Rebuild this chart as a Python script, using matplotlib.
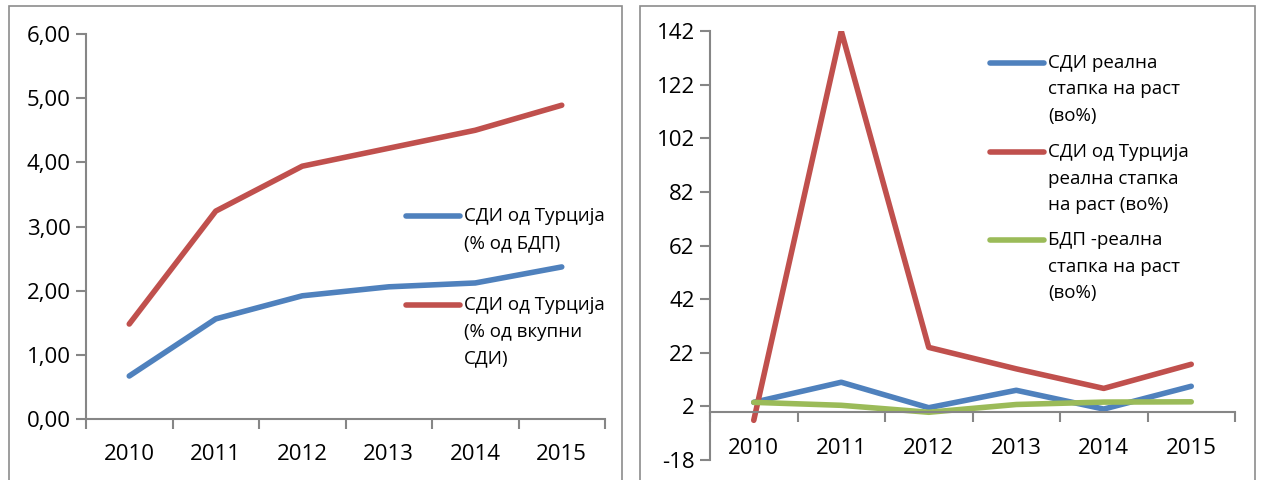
import matplotlib.pyplot as plt
import matplotlib.patches as mpatches
from matplotlib.lines import Line2D
import numpy as np

years = ['2010', '2011', '2012', '2013', '2014', '2015']

# left chart: FDI from Turkey
fdi_tr_gdp = [0.67, 1.56, 1.92, 2.06, 2.12, 2.37]
fdi_tr_total = [1.48, 3.24, 3.94, 4.22, 4.50, 4.89]

# right chart: real growth rates
fdi_growth = [3.5, 11.0, 1.5, 8.0, 1.0, 9.5]
fdi_tr_growth = [-3.2, 142.0, 24.0, 16.0, 8.7, 17.7]
gdp_growth = [3.5, 2.4, -0.2, 2.7, 3.6, 3.7]

left_labels = ['СДИ од Турција\n(% од БДП)', 'СДИ од Турција\n(% од вкупни\nСДИ)']
right_labels = ['СДИ реална\nстапка на раст\n(во%)',
                'СДИ од Турција\nреална стапка\nна раст (во%)',
                'БДП -реална\nстапка на раст\n(во%)']

BLUE = '#4F81BD'
RED = '#C0504D'
GREEN = '#9BBB59'
GRAY = '#868686'

plt.rcParams['font.family'] = ['Open Sans', 'DejaVu Sans']
plt.rcParams['axes.unicode_minus'] = False

W, H = 1261, 480
fig = plt.figure(figsize=(W / 100, H / 100), dpi=100)

# chart borders
for x0, x1 in [(9, 622), (640, 1255)]:
    fig.patches.append(mpatches.Rectangle((x0 / W, -0.05), (x1 - x0) / W, 1 - 6 / H + 0.05,
                                          transform=fig.transFigure, fill=False,
                                          edgecolor='#8c8c8c', linewidth=1.2))

x = np.arange(len(years))


def style_axes(ax, pad):
    for s in ['top', 'right']:
        ax.spines[s].set_visible(False)
    for s in ['left', 'bottom']:
        ax.spines[s].set_color(GRAY)
        ax.spines[s].set_linewidth(1.5)
    ax.set_xlim(-0.5, 5.5)
    ax.set_xticks(np.arange(-0.5, 6, 1))
    ax.set_xticklabels([])
    ax.set_xticks(x, minor=True)
    ax.set_xticklabels(years, minor=True)
    ax.tick_params(axis='x', which='major', direction='out', length=7, width=1.5, color=GRAY)
    ax.tick_params(axis='x', which='minor', length=0, pad=pad, labelsize=16)
    ax.tick_params(axis='y', direction='out', length=7, width=1.5, color=GRAY, labelsize=16, pad=4)
    ax.patch.set_visible(False)


def legend(lines, labels, x0, ys, row=26.8):
    # legend drawn by hand so the handle sits on the first text row
    for ln, lab, y in zip(lines, labels, ys):
        fig.lines.append(Line2D([x0 / W, (x0 + 54) / W], [1 - y / H, 1 - y / H],
                                transform=fig.transFigure, color=ln.get_color(),
                                lw=ln.get_linewidth(), solid_capstyle='round'))
        for i, part in enumerate(lab.split('\n')):
            fig.text((x0 + 58) / W, 1 - (y + i * row) / H, part, fontsize=13.5,
                     va='center', ha='left')


# left
ax1 = fig.add_axes([86 / W, 1 - 419 / H, (605 - 86) / W, (419 - 34) / H])
l1, = ax1.plot(x, fdi_tr_gdp, color=BLUE, lw=4, solid_capstyle='round')
l2, = ax1.plot(x, fdi_tr_total, color=RED, lw=4, solid_capstyle='round')
ax1.set_ylim(0, 6)
ax1.set_yticks(np.arange(0, 7, 1))
ax1.set_yticklabels([f'{v:.2f}'.replace('.', ',') for v in range(7)])
style_axes(ax1, 18)
legend([l1, l2], left_labels, 406, [216, 305])

# right
ax2 = fig.add_axes([710 / W, 1 - 460 / H, (1235 - 710) / W, (460 - 31) / H])
r1, = ax2.plot(x, fdi_growth, color=BLUE, lw=4, solid_capstyle='round')
r2, = ax2.plot(x, fdi_tr_growth, color=RED, lw=4, solid_capstyle='round')
r3, = ax2.plot(x, gdp_growth, color=GREEN, lw=4, solid_capstyle='round')
ax2.set_ylim(-18, 142)
ax2.set_yticks(np.arange(-18, 143, 20))
style_axes(ax2, 19)
ax2.spines['bottom'].set_position(('data', 0))
legend([r1, r2, r3], right_labels, 990, [63, 152, 240], row=26.5)

fig.savefig('out.png', dpi=100)
